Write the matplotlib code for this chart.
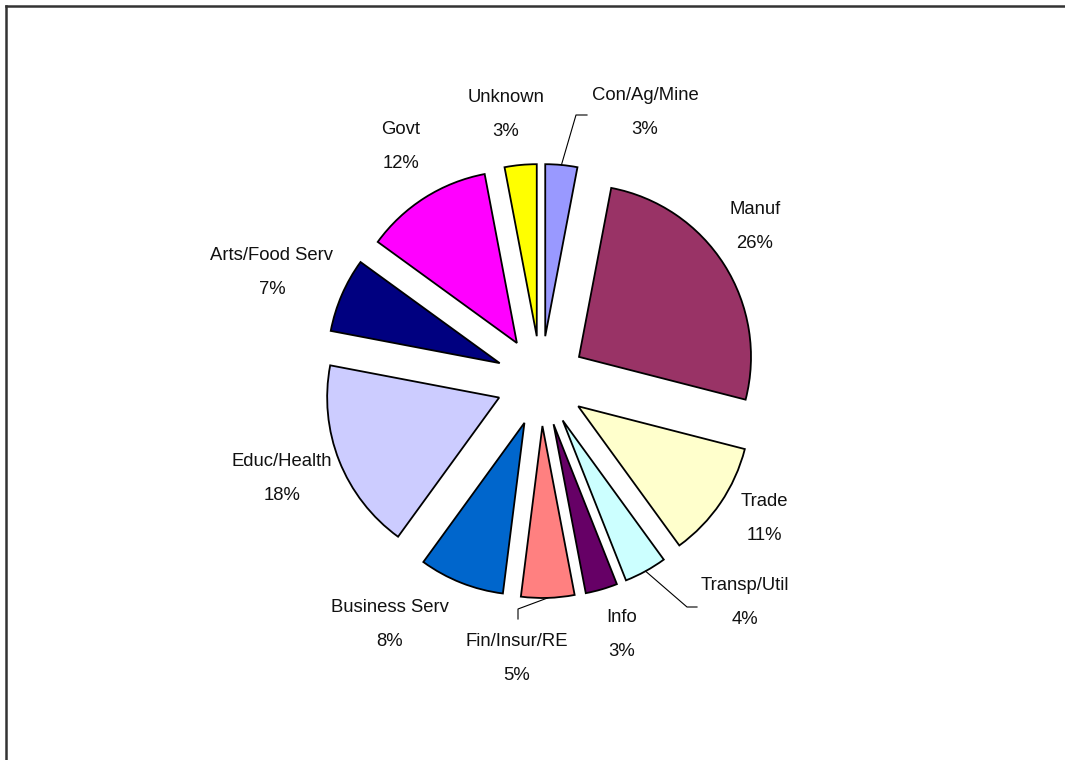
import math
import matplotlib
matplotlib.use("Agg")
import matplotlib.pyplot as plt
from matplotlib.lines import Line2D

# Employment share by industry (percent), clockwise from 12 o'clock
industries = ["Con/Ag/Mine", "Manuf", "Trade", "Transp/Util", "Info",
              "Fin/Insur/RE", "Business Serv", "Educ/Health",
              "Arts/Food Serv", "Govt", "Unknown"]
shares = [3, 26, 11, 4, 3, 5, 8, 18, 7, 12, 3]
colors = ["#9999FF", "#993366", "#FFFFCC", "#CCFFFF", "#660066",
          "#FF8080", "#0066CC", "#CCCCFF", "#000080", "#FF00FF", "#FFFF00"]

# ---- layout (pixels on the 1065 x 760 canvas) ----
W, H = 1065, 760
CX, CY, R = 541, 381, 172          # pie centre and radius
EXPLODE = 45 / R                   # every slice pulled out by the same amount

# label centres (name line) for each slice; the percentage sits below it
label_pos = {
    "Con/Ag/Mine": (645, 96),
    "Manuf": (755, 210),
    "Trade": (764, 502),
    "Transp/Util": (745, 585),
    "Info": (622, 617),
    "Fin/Insur/RE": (517, 641),
    "Business Serv": (390, 608),
    "Educ/Health": (282, 462),
    "Arts/Food Serv": (272, 256),
    "Govt": (401, 130),
    "Unknown": (506, 97),
}
PCT_GAP = 34
FONT_SIZE = 13.3

# leader lines: elbow and end point for labels that were dragged away
leaders = {
    "Con/Ag/Mine": [(576, 115), (587, 115)],
    "Transp/Util": [(687, 607), (697, 607)],
    "Fin/Insur/RE": [(518, 609), (518, 619)],
}


def px(x, y):
    """Convert canvas pixel position to data units (radius = 1)."""
    return (x - CX) / R, (CY - y) / R


plt.rcParams["font.family"] = ["Liberation Sans", "DejaVu Sans"]

fig = plt.figure(figsize=(W / 100, H / 100), dpi=100)
fig.patch.set_facecolor("white")
ax = fig.add_axes([0, 0, 1, 1])

wedges, _ = ax.pie(
    shares,
    explode=[EXPLODE] * len(shares),
    colors=colors,
    startangle=90,
    counterclock=False,
    radius=1,
    center=(0, 0),
    wedgeprops=dict(edgecolor="black", linewidth=1.3),
)

ax.set_xlim(-CX / R, (W - CX) / R)
ax.set_ylim(-(H - CY) / R, CY / R)
ax.set_aspect("equal")
ax.axis("off")

total = sum(shares)
for name, share, w in zip(industries, shares, wedges):
    lx, ly = label_pos[name]
    tx, ty = px(lx, ly)
    ax.text(tx, ty, name, ha="center", va="center",
            fontsize=FONT_SIZE, color="#111111")
    qx, qy = px(lx, ly + PCT_GAP)
    ax.text(qx, qy, f"{round(100 * share / total)}%", ha="center",
            va="center", fontsize=FONT_SIZE, color="#111111")

    if name in leaders:
        mid = math.radians(0.5 * (w.theta1 + w.theta2))
        sx = (EXPLODE + 1.0) * math.cos(mid)
        sy = (EXPLODE + 1.0) * math.sin(mid)
        pts = [(sx, sy)] + [px(*p) for p in leaders[name]]
        ax.plot([p[0] for p in pts], [p[1] for p in pts],
                color="black", linewidth=0.8)

# chart-area border (top and left edges visible on the canvas)
fig.add_artist(Line2D([6 / W, 1.0], [1 - 6 / H, 1 - 6 / H],
                      color="#333333", linewidth=1.8,
                      transform=fig.transFigure))
fig.add_artist(Line2D([6 / W, 6 / W], [0.0, 1 - 6 / H],
                      color="#333333", linewidth=1.8,
                      transform=fig.transFigure))

fig.savefig("out.png", dpi=100, facecolor="white")
